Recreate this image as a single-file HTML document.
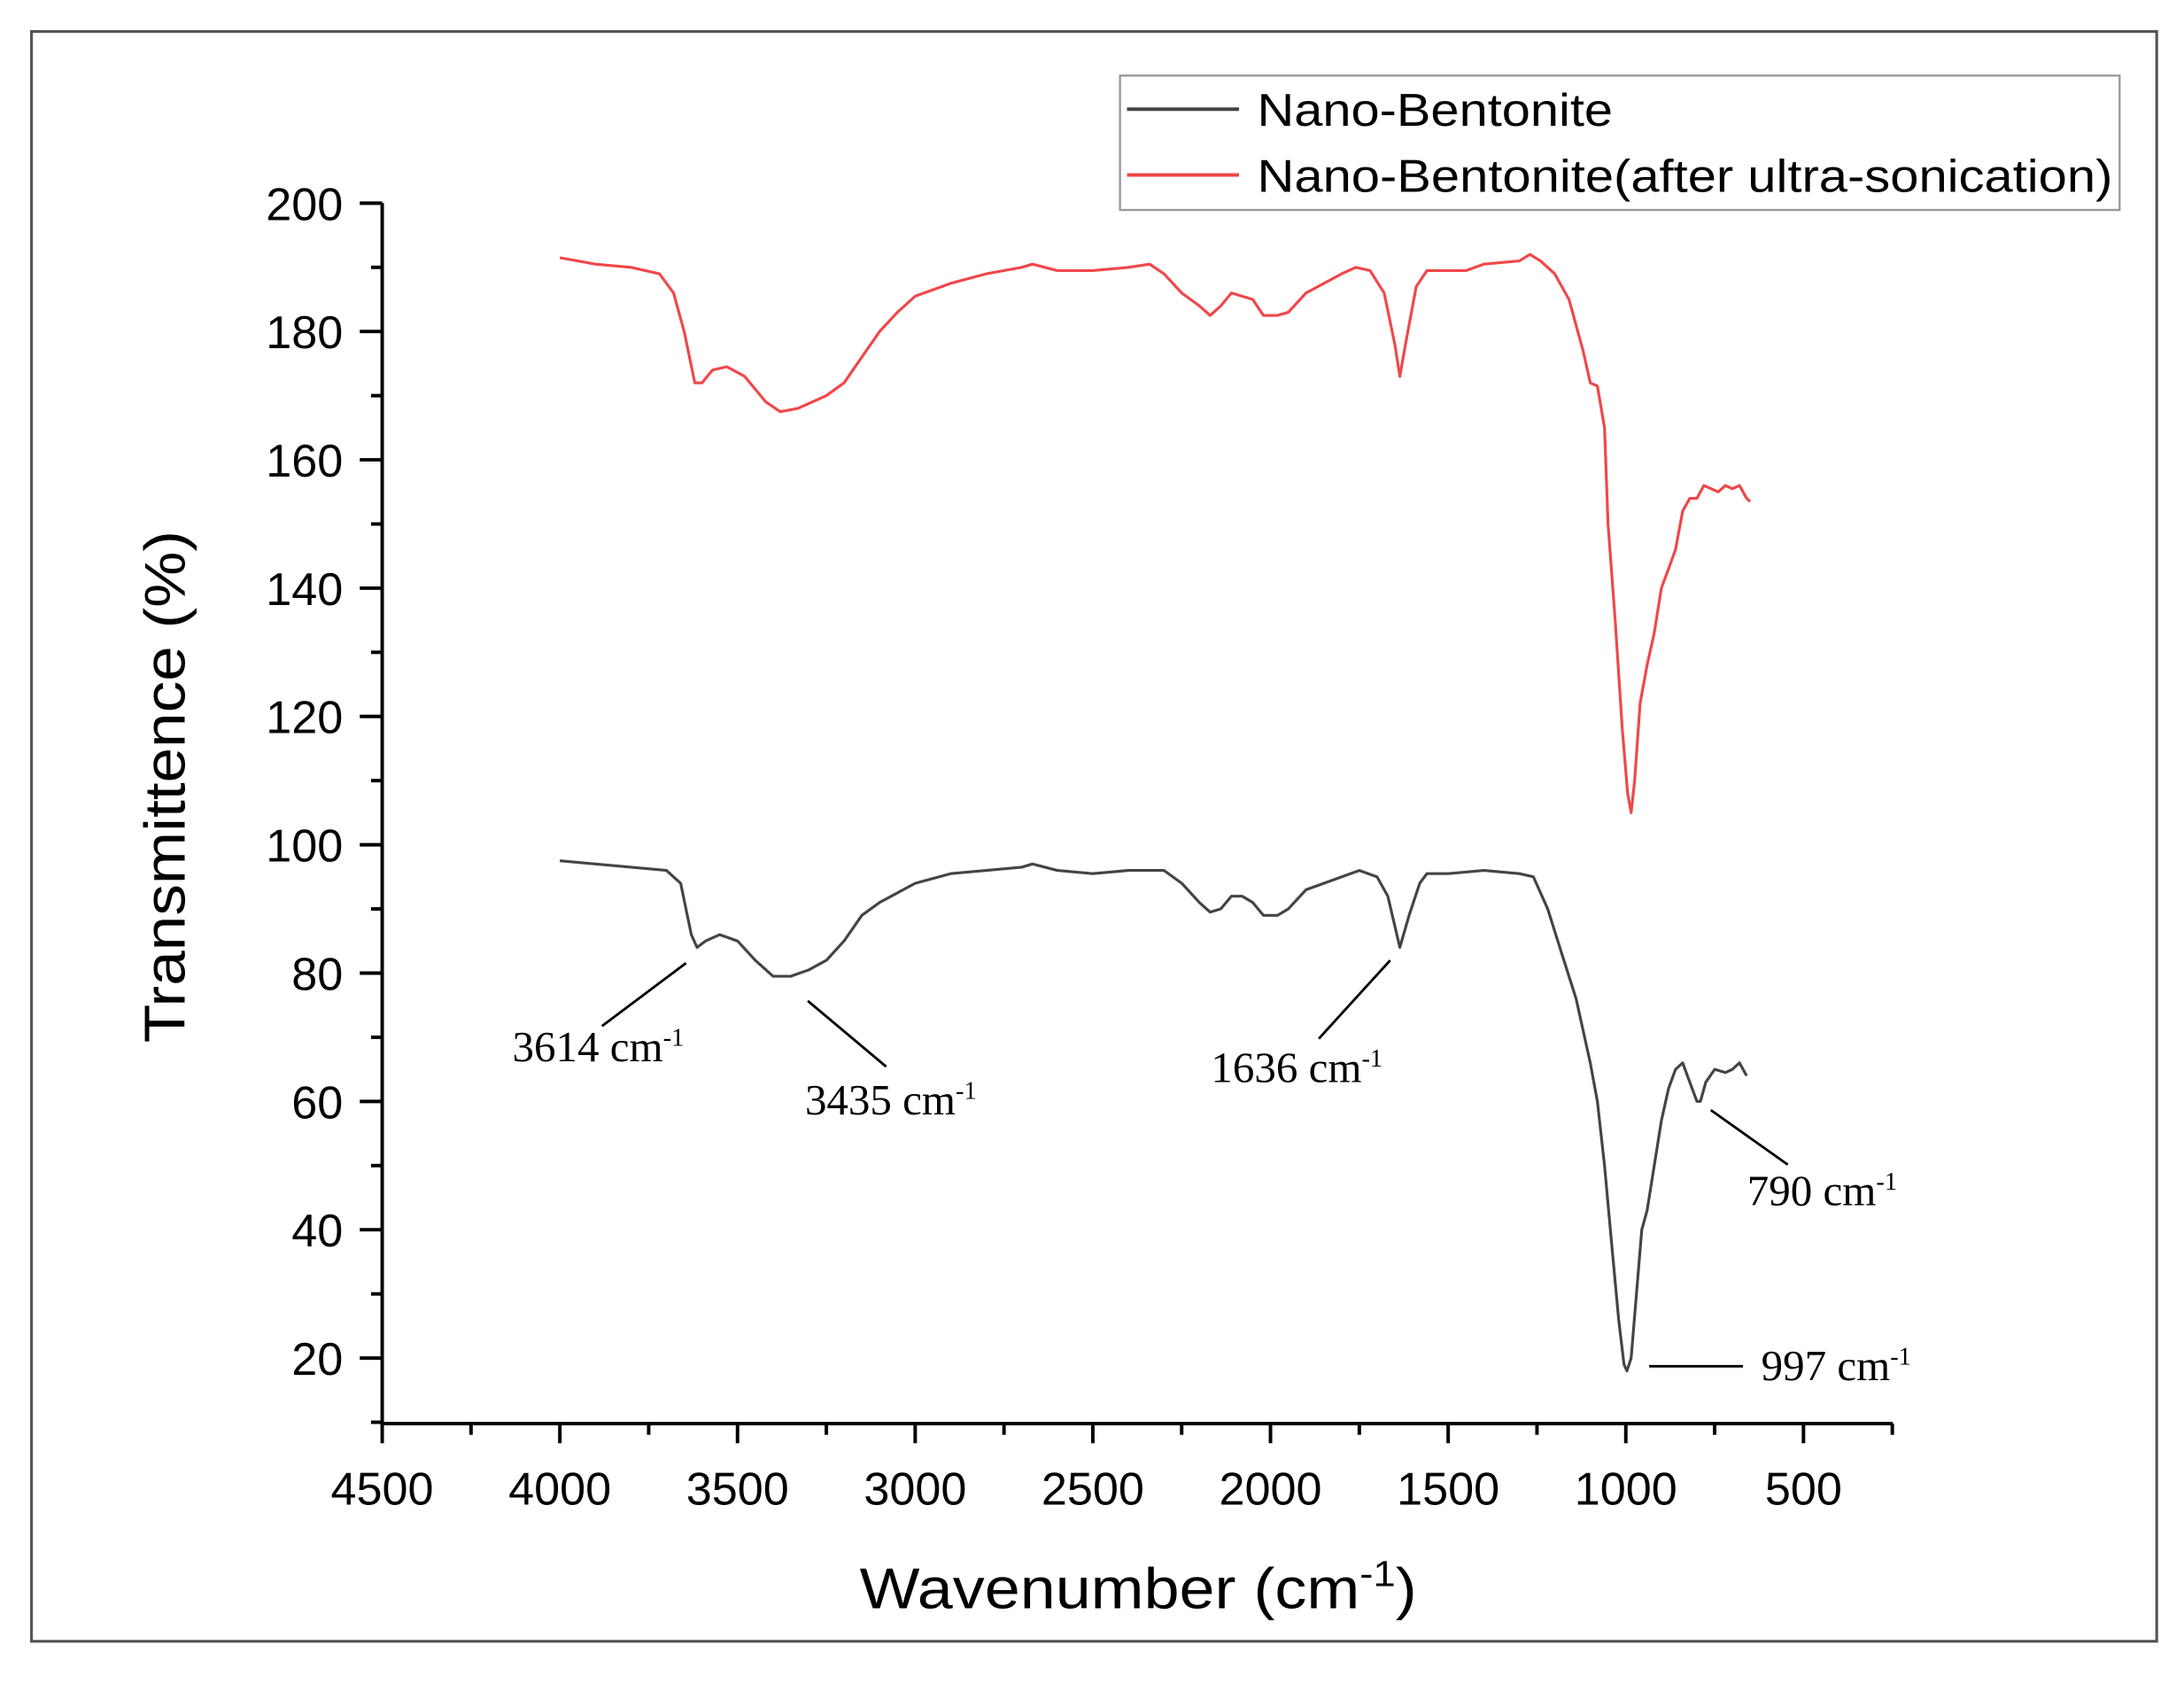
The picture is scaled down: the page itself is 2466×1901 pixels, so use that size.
<!DOCTYPE html>
<html><head><meta charset="utf-8"><style>
html,body{margin:0;padding:0;background:#fff;}
svg{display:block;}
text{font-family:"Liberation Sans",sans-serif;}
.t{font-family:"Liberation Serif",serif;}
</style></head><body>
<svg id="s" width="2466" height="1901" viewBox="0 0 1560 1203" preserveAspectRatio="none" xmlns="http://www.w3.org/2000/svg">
<rect x="0" y="0" width="1560" height="1203" fill="#fff"/>
<rect x="22.5" y="22.5" width="1518" height="1150" fill="none" stroke="#555" stroke-width="2"/>
<g id="ax" stroke="#000" stroke-width="2.5" fill="none"></g>
<g id="lbl" font-size="33" fill="#000"></g>
<polyline id="black" fill="none" stroke="#444" stroke-width="2" stroke-linejoin="round"/>
<polyline id="red" fill="none" stroke="#f0474a" stroke-width="2" stroke-linejoin="round"/>
<rect x="800" y="54" width="714" height="96" fill="#fff" stroke="#999" stroke-width="1.5"/>
<line x1="805" y1="78" x2="885" y2="78" stroke="#444" stroke-width="2.5"/>
<line x1="805" y1="125" x2="885" y2="125" stroke="#f0474a" stroke-width="2.5"/>
<text x="898" y="90" font-size="33" textLength="254" lengthAdjust="spacingAndGlyphs">Nano-Bentonite</text>
<text x="898" y="137" font-size="33" textLength="611" lengthAdjust="spacingAndGlyphs">Nano-Bentonite(after ultra-sonication)</text>
<text x="614" y="1149" font-size="41" textLength="398" lengthAdjust="spacingAndGlyphs">Wavenumber (cm<tspan dy="-16" font-size="26">-1</tspan><tspan dy="16">)</tspan></text>
<text transform="translate(132,562) rotate(-90)" text-anchor="middle" font-size="41" textLength="366" lengthAdjust="spacingAndGlyphs">Transmittence (%)</text>
<g stroke="#000" stroke-width="1.8">
<line x1="430" y1="733" x2="490" y2="688"/>
<line x1="577" y1="715" x2="633" y2="762"/>
<line x1="942" y1="742" x2="993" y2="686"/>
<line x1="1222" y1="793" x2="1277" y2="832"/>
<line x1="1178" y1="976" x2="1245" y2="976"/>
</g>
<g class="t" font-size="31" fill="#000">
<text class="t" x="366" y="758">3614 cm<tspan dy="-11" font-size="18">-1</tspan></text>
<text class="t" x="575" y="796">3435 cm<tspan dy="-11" font-size="18">-1</tspan></text>
<text class="t" x="865" y="773">1636 cm<tspan dy="-11" font-size="18">-1</tspan></text>
<text class="t" x="1248" y="861">790 cm<tspan dy="-11" font-size="18">-1</tspan></text>
<text class="t" x="1258" y="986">997 cm<tspan dy="-11" font-size="18">-1</tspan></text>
</g>
</svg>
<script>
var X=function(w){return 273+(4500-w)*0.2538;};
var Y=function(v){return 1016-(v-10)*4.5835;};
var ax=document.getElementById('ax'),lb=document.getElementById('lbl');
var h='<line x1="273" y1="145" x2="273" y2="1017"/><line x1="273" y1="1017" x2="1352" y2="1017"/>';
var l='';
for(var v=10;v<=200;v+=10){var y=Y(v);var maj=(v%20==0);h+='<line x1="'+(maj?257:265)+'" y1="'+y+'" x2="273" y2="'+y+'"/>';
 if(maj) l+='<text x="245" y="'+(y+12)+'" text-anchor="end">'+v+'</text>';}
for(var w=4500;w>=250;w-=250){var x=X(w);var maj=(w%500==0);h+='<line x1="'+x+'" y1="1017" x2="'+x+'" y2="'+(maj?1031:1025)+'"/>';
 if(maj) l+='<text x="'+x+'" y="1075" text-anchor="middle">'+w+'</text>';}
ax.innerHTML=h;lb.innerHTML=l;
var B=[4000,97.5,3900,97,3800,96.5,3700,96,3660,94,3630,86,3614,84,3590,85,3550,86,3500,85,3450,82,3400,79.5,3350,79.5,3300,80.5,3250,82,3200,85,3150,89,3100,91,3000,94,2900,95.5,2800,96,2700,96.5,2670,97,2600,96,2500,95.5,2400,96,2300,96,2250,94,2200,91,2170,89.5,2140,90,2110,92,2080,92,2050,91,2020,89,1980,89,1950,90,1900,93,1800,95,1750,96,1700,95,1670,92,1636,84,1610,89,1580,94,1560,95.5,1500,95.5,1400,96,1300,95.5,1260,95,1220,90,1180,83,1140,76,1100,66,1080,60,1060,50,1040,38,1020,26,1005,19,997,18,985,20,970,30,955,40,940,43,920,50,900,57,880,62,860,65,840,66,820,63,800,60,790,60,775,63,750,65,720,64.5,700,65,680,66,660,64];
var R=[4000,191.5,3900,190.5,3800,190,3720,189,3680,186,3650,180,3620,172,3600,172,3570,174,3530,174.5,3480,173,3420,169,3380,167.5,3330,168,3250,170,3200,172,3150,176,3100,180,3050,183,3000,185.5,2900,187.5,2800,189,2700,190,2670,190.5,2600,189.5,2500,189.5,2400,190,2340,190.5,2300,189,2250,186,2200,184,2170,182.5,2140,184,2110,186,2080,185.5,2050,185,2020,182.5,1980,182.5,1950,183,1900,186,1800,189,1760,190,1720,189.5,1680,186,1650,178,1636,173,1620,178,1590,187,1560,189.5,1500,189.5,1450,189.5,1400,190.5,1300,191,1270,192,1240,191,1200,189,1160,185,1120,177,1100,172,1080,171.5,1060,165,1050,150,1030,135,1010,118,995,108,985,105,975,110,960,122,940,128,920,133,900,140,880,143,860,146,840,152,820,154,800,154,780,156,760,155.5,740,155,720,156,700,155.5,680,156,660,154,650,153.5];
function pts(a){var s='';for(var i=0;i<a.length;i+=2)s+=X(a[i]).toFixed(1)+','+Y(a[i+1]).toFixed(1)+' ';return s;}
document.getElementById('black').setAttribute('points',pts(B));
document.getElementById('red').setAttribute('points',pts(R));
</script>
</body></html>
